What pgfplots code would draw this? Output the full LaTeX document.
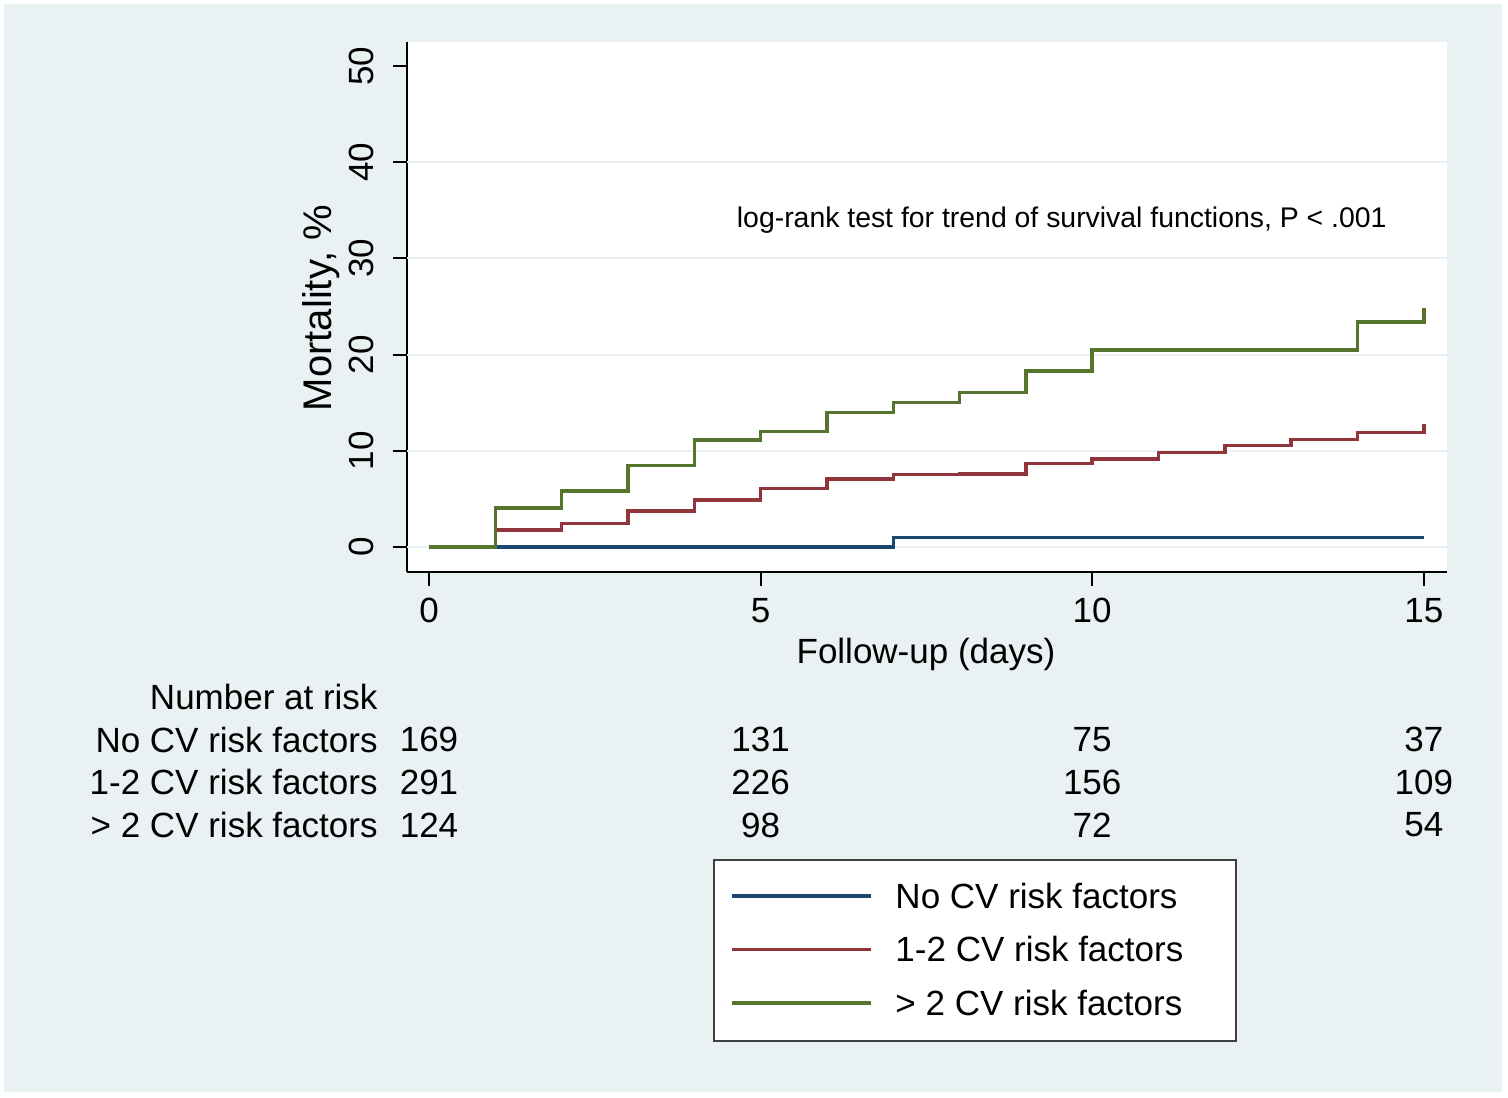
\documentclass[border=0pt]{standalone}
\usepackage{fontspec}
\setmainfont{Liberation Sans}
\usepackage{pgfplots}
\pgfplotsset{compat=1.18}
\definecolor{bgc}{RGB}{234,241,243}
\definecolor{gridc}{RGB}{232,240,242}
\definecolor{snavy}{RGB}{26,71,111}
\definecolor{smaroon}{RGB}{144,53,59}
\definecolor{sgreen}{RGB}{85,117,47}
\newcommand\bigf{\fontsize{17.5}{21}\selectfont}
\newcommand\smallf{\fontsize{14.2}{17}\selectfont}
\begin{document}
\begin{tikzpicture}[x=1pt,y=1pt]
\fill[white] (0,0) rectangle (754,548.5);
\fill[bgc] (2,2.5) rectangle (751,546.5);
\begin{axis}[
 at={(203.5pt,262.5pt)}, anchor=south west,
 scale only axis, width=520pt, height=265pt,
 xmin=-0.332, xmax=15.35, ymin=-2.6, ymax=52.5,
 clip=false,
 axis x line*=bottom, axis y line*=left,
 axis line style={black, line width=1pt, -},
 axis background/.style={fill=white},
 xtick={0,5,10,15}, ytick={0,10,...,50},
 tick align=outside, major tick length=7pt,
 tick style={black, line width=1pt},
 extra y ticks={0,10,20,30,40}, extra y tick labels={},
 extra y tick style={grid=major, major tick length=0pt, grid style={gridc, line width=1pt}},
 /pgf/number format/assume math mode=true,
 ticklabel style={font=\bigf},
 yticklabel style={rotate=90, anchor=south, inner sep=0pt},
 xticklabel style={anchor=north, inner sep=0pt},
 yticklabel shift=9.5pt,
 xticklabel shift=6pt,
 xlabel={Follow-up (days)}, ylabel={Mortality, \%},
 xlabel style={font=\bigf, at={(axis description cs:0.499,-0.1547)}, anchor=center},
 ylabel style={font=\fontsize{20}{24}\selectfont, at={(axis description cs:-0.083,0.498)}, anchor=center},
 legend style={at={(axis description cs:0.2942,-0.5415)}, anchor=north west,
   draw=black!75, line width=1pt, fill=white, inner xsep=8pt, inner ysep=11.5pt,
   row sep=12.5pt, column sep=11.5pt, font=\bigf, nodes={inner sep=0pt}},
 legend cell align=left,
 legend image code/.code={\draw[#1] (0pt,0.5pt) -- (69.5pt,0.5pt);},
]
\addplot[snavy, line width=1.75pt, const plot] coordinates {(0,0) (7,1.0) (15,1.0)};
\addlegendentry{\makebox[162.5pt][l]{No CV risk factors}}
\addplot[smaroon, line width=1.75pt, const plot] coordinates {
 (0,0) (1,1.77) (2,2.46) (3,3.74) (4,4.9) (5,6.1) (6,7.07) (7,7.56) (8,7.6)
 (9,8.7) (10,9.15) (11,9.84) (12,10.53) (13,11.2) (14,11.9) (15,12.8)};
\addlegendentry{\makebox[162.5pt][l]{1-2 CV risk factors}}
\addplot[sgreen, line width=1.75pt, const plot] coordinates {
 (0,0) (1,4.05) (2,5.8) (3,8.45) (4,11.1) (5,12.0) (6,14.0) (7,15.0) (8,16.05)
 (9,18.3) (10,20.5) (11,20.5) (12,20.5) (13,20.5) (14,23.4) (15,24.8)};
\addlegendentry{\makebox[162.5pt][l]{> 2 CV risk factors}}
\node[anchor=base, inner sep=0pt, font=\smallf] at (axis cs:9.54,33.17)
 {log-rank test for trend of survival functions, P < .001};
\begin{scope}[every node/.style={inner sep=0pt, font=\bigf}]
\node[anchor=east] at (axis cs:-0.77,-15.6) {Number at risk};
\node[anchor=east] at (axis cs:-0.77,-20.06) {No CV risk factors};
\node[anchor=east] at (axis cs:-0.77,-24.43) {1-2 CV risk factors};
\node[anchor=east] at (axis cs:-0.77,-28.9) {> 2 CV risk factors};
\node at (axis cs:0,-20.06) {169};
\node at (axis cs:5,-20.06) {131};
\node at (axis cs:10,-20.06) {75};
\node at (axis cs:15,-20.06) {37};
\node at (axis cs:0,-24.43) {291};
\node at (axis cs:5,-24.43) {226};
\node at (axis cs:10,-24.43) {156};
\node at (axis cs:15,-24.43) {109};
\node at (axis cs:0,-28.9) {124};
\node at (axis cs:5,-28.9) {98};
\node at (axis cs:10,-28.9) {72};
\node at (axis cs:15,-28.9) {54};
\end{scope}
\end{axis}
\pgfresetboundingbox
\path[use as bounding box] (0,0) rectangle (754,548.5);
\end{tikzpicture}
\end{document}
